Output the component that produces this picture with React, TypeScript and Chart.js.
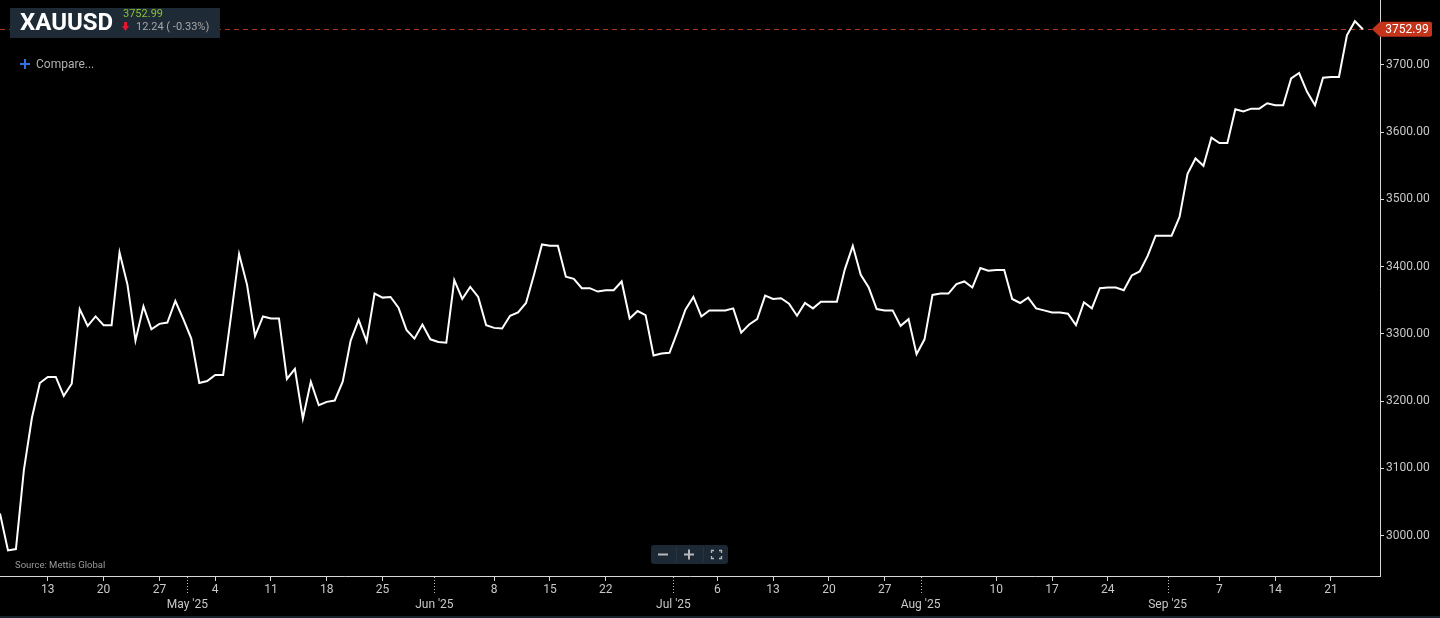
import React, { useEffect, useRef } from "react";
import { Chart, registerables } from "chart.js";

Chart.register(...registerables);

// ---------- data ----------
const START_DATE = "2025-04-06";

const prices: number[] = [
  3033, 2978, 2980, 3098, 3175, 3227, 3236, 3236, 3208, 3226,
  3337, 3312, 3326, 3313, 3313, 3421, 3373, 3290, 3341, 3307,
  3315, 3317, 3349, 3322, 3293, 3227, 3230, 3239, 3239, 3328,
  3419, 3373, 3297, 3326, 3323, 3323, 3233, 3248, 3174, 3229,
  3194, 3199, 3201, 3229, 3290, 3321, 3289, 3360, 3354, 3355,
  3339, 3306, 3293, 3314, 3292, 3288, 3287, 3380, 3352, 3370,
  3355, 3313, 3309, 3308, 3327, 3332, 3346, 3388, 3433, 3431,
  3431, 3385, 3382, 3368, 3368, 3363, 3365, 3365, 3378, 3323,
  3334, 3328, 3268, 3271, 3272, 3303, 3336, 3355, 3326, 3335,
  3335, 3335, 3338, 3302, 3314, 3322, 3357, 3352, 3353, 3345,
  3327, 3346, 3338, 3348, 3348, 3348, 3396, 3431, 3388, 3369,
  3337, 3335, 3335, 3312, 3322, 3270, 3292, 3358, 3360, 3360,
  3374, 3378, 3369, 3398, 3394, 3395, 3395, 3352, 3346, 3354,
  3338, 3335, 3332, 3332, 3330, 3313, 3347, 3338, 3368, 3369,
  3369, 3365, 3387, 3393, 3416, 3446, 3446, 3446, 3474, 3538,
  3561, 3550, 3592, 3584, 3584, 3634, 3631, 3635, 3635, 3643,
  3640, 3640, 3680, 3688, 3660, 3640, 3681, 3682, 3682, 3744,
  3765, 3752.99,
];

const dayTickDates = [
  "2025-04-13", "2025-04-20", "2025-04-27", "2025-05-04", "2025-05-11",
  "2025-05-18", "2025-05-25", "2025-06-08", "2025-06-15", "2025-06-22",
  "2025-07-06", "2025-07-13", "2025-07-20", "2025-07-27", "2025-08-10",
  "2025-08-17", "2025-08-24", "2025-09-07", "2025-09-14", "2025-09-21",
];
const dayTickLabels = [
  "13", "20", "27", "4", "11", "18", "25", "8", "15", "22",
  "6", "13", "20", "27", "10", "17", "24", "7", "14", "21",
];
const monthTickDates = ["2025-05-01", "2025-06-01", "2025-07-01", "2025-08-01", "2025-09-01"];
const monthTickLabels = ["May '25", "Jun '25", "Jul '25", "Aug '25", "Sep '25"];

const yTickValues = [3000, 3100, 3200, 3300, 3400, 3500, 3600, 3700];

const symbolName = "XAUUSD";
const lastPriceText = "3752.99";
const changeText = "12.24 ( -0.33%)";
const compareText = "Compare...";
const sourceText = "Source: Mettis Global";

// ---------- helpers ----------
const DAY_MS = 86400000;
const dayIndex = (d: string) =>
  (Date.parse(d + "T00:00:00Z") - Date.parse(START_DATE + "T00:00:00Z")) / DAY_MS;

type TickDef = { value: number; label: string | string[]; month: boolean };
const xTicks: TickDef[] = [
  ...dayTickDates.map((d, i) => ({ value: dayIndex(d) - 1.0, label: dayTickLabels[i], month: false })),
  ...monthTickDates.map((d, i) => ({ value: dayIndex(d) - 1.5, label: ["", monthTickLabels[i]], month: true })),
].sort((a, b) => a.value - b.value);

const FONT = "Roboto";
const AXIS_TEXT = "#c8c8c8";
const AXIS_LINE = "#d6d6d6";

const overlayPlugin = {
  id: "overlayPlugin",
  beforeDatasetsDraw(chart: any) {
    const { ctx, chartArea, scales } = chart;
    const y = scales.y;
    const last = prices[prices.length - 1];
    const py = Math.round(y.getPixelForValue(last)) + 0.5;
    ctx.save();
    ctx.strokeStyle = "#a8381c";
    ctx.lineWidth = 1;
    ctx.setLineDash([5, 4]);
    ctx.beginPath();
    ctx.moveTo(chartArea.left, py);
    ctx.lineTo(chartArea.right - 8, py);
    ctx.stroke();
    ctx.restore();
  },
  afterDraw(chart: any) {
    const { ctx, chartArea, scales } = chart;
    const x = scales.x;
    const y = scales.y;
    ctx.save();
    // dotted month ticks
    ctx.strokeStyle = "#bdbdbd";
    ctx.lineWidth = 1;
    ctx.setLineDash([1, 2]);
    xTicks.filter((t) => t.month).forEach((t) => {
      const px = Math.round(x.getPixelForValue(t.value)) + 0.5;
      ctx.beginPath();
      ctx.moveTo(px, chartArea.bottom + 1);
      ctx.lineTo(px, chartArea.bottom + 19);
      ctx.stroke();
    });
    ctx.setLineDash([]);
    // last price badge
    const last = prices[prices.length - 1];
    const py = y.getPixelForValue(last);
    const tipX = chartArea.right - 8;
    const left = chartArea.right;
    const right = chartArea.right + 52;
    const h = 15;
    const r = 2;
    ctx.fillStyle = "#c4341a";
    ctx.beginPath();
    ctx.moveTo(tipX, py);
    ctx.lineTo(left, py - h / 2);
    ctx.lineTo(right - r, py - h / 2);
    ctx.quadraticCurveTo(right, py - h / 2, right, py - h / 2 + r);
    ctx.lineTo(right, py + h / 2 - r);
    ctx.quadraticCurveTo(right, py + h / 2, right - r, py + h / 2);
    ctx.lineTo(left, py + h / 2);
    ctx.closePath();
    ctx.fill();
    ctx.fillStyle = "#ffffff";
    ctx.font = `12px ${FONT}`;
    ctx.textAlign = "center";
    ctx.textBaseline = "middle";
    ctx.fillText(last.toFixed(2), (left + right) / 2 + 1, py + 0.5);
    ctx.restore();
  },
};

export default function App() {
  const canvasRef = useRef<HTMLCanvasElement | null>(null);

  useEffect(() => {
    document.body.style.margin = "0";
    document.body.style.background = "#000";
    const canvas = canvasRef.current;
    if (!canvas) return;
    const chart = new Chart(canvas, {
      type: "line",
      data: {
        datasets: [
          {
            data: prices.map((v, i) => ({ x: i, y: v })),
            borderColor: "#ffffff",
            borderWidth: 2,
            pointRadius: 0,
            pointHoverRadius: 0,
            tension: 0,
            fill: false,
          },
        ],
      },
      options: {
        animation: false,
        responsive: false,
        devicePixelRatio: 1,
        layout: { padding: 0 },
        plugins: {
          legend: { display: false },
          tooltip: { enabled: false },
          title: { display: false },
        },
        scales: {
          x: {
            type: "linear",
            min: 0,
            max: 173.15,
            afterBuildTicks: (scale: any) => {
              scale.ticks = xTicks.map((t) => ({ value: t.value }));
            },
            afterFit: (scale: any) => {
              scale.height = 42;
              scale.paddingLeft = 0;
              scale.paddingRight = 0;
            },
            ticks: {
              autoSkip: false,
              maxRotation: 0,
              minRotation: 0,
              padding: 2,
              color: AXIS_TEXT,
              font: { family: FONT, size: 12, lineHeight: 1.2 },
              callback: (_v: any, index: number) => xTicks[index] ? xTicks[index].label : "",
            },
            grid: {
              drawOnChartArea: false,
              drawTicks: true,
              tickLength: 5,
              tickWidth: 1,
              tickColor: (ctx: any) => (xTicks[ctx.index] && xTicks[ctx.index].month ? "rgba(0,0,0,0)" : AXIS_LINE),
            },
            border: { display: true, color: AXIS_LINE, width: 1 },
          },
          y: {
            type: "linear",
            position: "right",
            min: 2940,
            max: 3796.6,
            afterBuildTicks: (scale: any) => {
              scale.ticks = yTickValues.map((v) => ({ value: v }));
            },
            afterFit: (scale: any) => {
              scale.width = 60;
              scale.paddingTop = 0;
              scale.paddingBottom = 0;
            },
            ticks: {
              padding: 2,
              color: AXIS_TEXT,
              font: { family: FONT, size: 12 },
              callback: (v: any) => Number(v).toFixed(2),
            },
            grid: {
              drawOnChartArea: false,
              drawTicks: true,
              tickLength: 4,
              tickColor: AXIS_LINE,
            },
            border: { display: true, color: AXIS_LINE, width: 1 },
          },
        },
      } as any,
      plugins: [overlayPlugin],
    });
    return () => chart.destroy();
  }, []);

  return (
    <div
      style={{
        position: "fixed",
        left: 0,
        top: 0,
        width: 1440,
        height: 618,
        background: "#000",
        overflow: "hidden",
        fontFamily: FONT,
      }}
    >
      <canvas ref={canvasRef} width={1440} height={618} style={{ display: "block", width: 1440, height: 618 }} />
      <div style={{ position: "absolute", left: 0, top: 616, width: 1440, height: 2, background: "#16222c" }} />

      {/* header box */}
      <div style={{ position: "absolute", left: 10, top: 8, width: 210, height: 30, background: "#1e2a35" }} />
      <div
        style={{
          position: "absolute",
          left: 20,
          top: 9.8,
          fontSize: 24,
          lineHeight: "24px",
          fontWeight: 700,
          color: "#ffffff",
          whiteSpace: "nowrap",
        }}
      >
        {symbolName}
      </div>
      <div
        style={{
          position: "absolute",
          left: 123,
          top: 8,
          fontSize: 11,
          lineHeight: "11px",
          color: "#86c232",
          whiteSpace: "nowrap",
        }}
      >
        {lastPriceText}
      </div>
      <svg style={{ position: "absolute", left: 122, top: 22 }} width={7} height={9} viewBox="0 0 7 9">
        <rect x={2} y={0} width={3} height={5} fill="#e8152e" />
        <polygon points="0,4 7,4 3.5,9" fill="#e8152e" />
      </svg>
      <div
        style={{
          position: "absolute",
          left: 136,
          top: 21.4,
          fontSize: 11,
          lineHeight: "11px",
          color: "#a6a6a6",
          whiteSpace: "nowrap",
        }}
      >
        {changeText}
      </div>

      {/* compare */}
      <svg style={{ position: "absolute", left: 20, top: 59 }} width={10} height={10} viewBox="0 0 10 10">
        <rect x={0} y={4} width={10} height={2} fill="#2b73e0" />
        <rect x={4} y={0} width={2} height={10} fill="#2b73e0" />
      </svg>
      <div
        style={{
          position: "absolute",
          left: 36,
          top: 58.2,
          fontSize: 12,
          lineHeight: "12px",
          color: "#b0b0b0",
          whiteSpace: "nowrap",
        }}
      >
        {compareText}
      </div>

      {/* source */}
      <div
        style={{
          position: "absolute",
          left: 15,
          top: 559.7,
          fontSize: 9.5,
          lineHeight: "9.5px",
          color: "#9a9a9a",
          whiteSpace: "nowrap",
        }}
      >
        {sourceText}
      </div>

      {/* zoom controls */}
      <div
        style={{
          position: "absolute",
          left: 651,
          top: 545,
          width: 77,
          height: 19,
          background: "#1c2833",
          borderRadius: 3,
        }}
      >
        <svg width={77} height={19} viewBox="0 0 77 19" style={{ display: "block" }}>
          <line x1={25.5} y1={2} x2={25.5} y2={17} stroke="#26343f" strokeWidth={1} />
          <line x1={52.5} y1={2} x2={52.5} y2={17} stroke="#26343f" strokeWidth={1} />
          <rect x={7} y={8.5} width={10} height={2} fill="#b8b8b8" />
          <rect x={33} y={8.5} width={10} height={2} fill="#b8b8b8" />
          <rect x={37} y={4.5} width={2} height={10} fill="#b8b8b8" />
          <path
            d="M60.5 8 V5.5 H63 M68 5.5 H70.5 V8 M70.5 11 V13.5 H68 M63 13.5 H60.5 V11"
            fill="none"
            stroke="#b8b8b8"
            strokeWidth={1.3}
          />
        </svg>
      </div>
    </div>
  );
}
